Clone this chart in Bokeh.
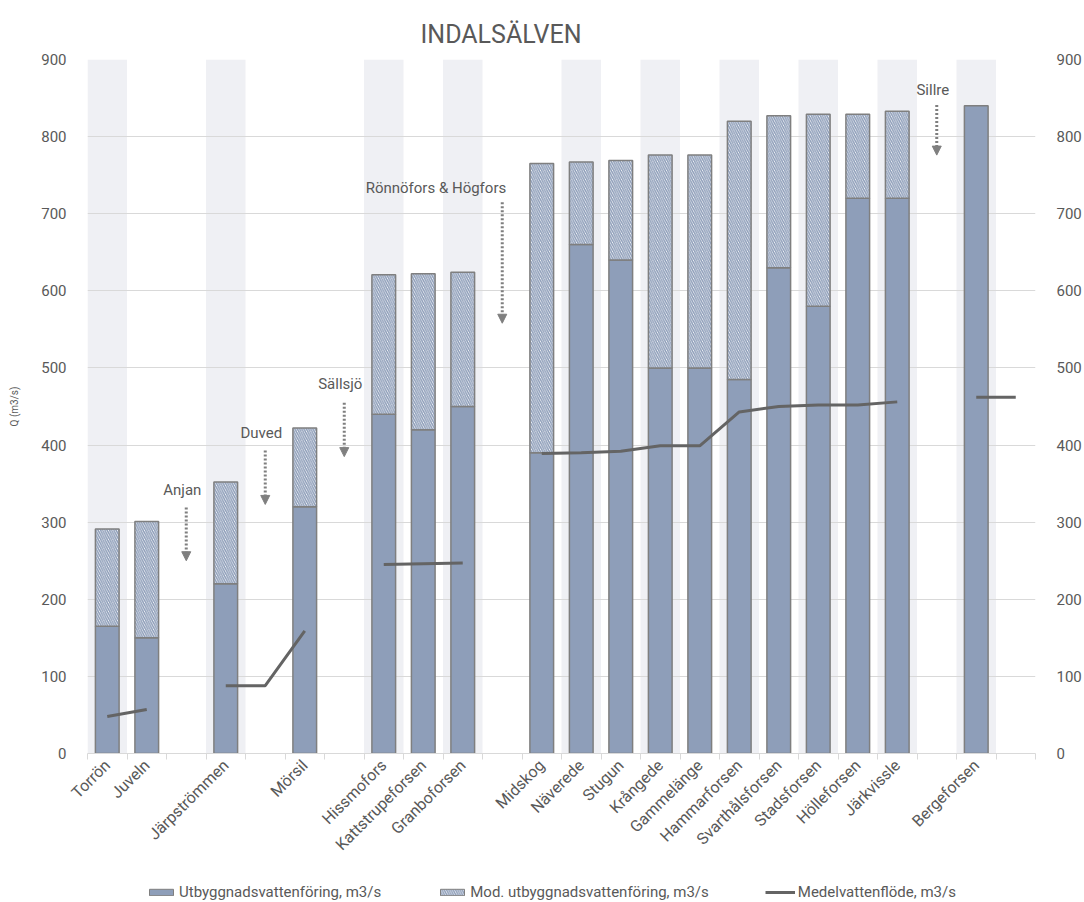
import math
import numpy as np
from bokeh.plotting import figure
from bokeh.layouts import column
from bokeh.models import (ColumnDataSource, Range1d, LinearAxis, FixedTicker,
                          Legend, LegendItem, Arrow, NormalHead)
from bokeh.core.properties import value
from bokeh.embed import file_html
from bokeh.resources import INLINE

# ---- data -------------------------------------------------------------
stations = ["Torrön", "Juveln", "", "Järpströmmen", "", "Mörsil", "",
            "Hissmofors", "Kattstrupeforsen", "Granboforsen", "",
            "Midskog", "Näverede", "Stugun", "Krångede", "Gammelänge",
            "Hammarforsen", "Svarthålsforsen", "Stadsforsen", "Hölleforsen",
            "Järkvissle", "", "Bergeforsen", ""]
utbyggnad = [165, 150, None, 220, None, 320, None, 440, 420, 450, None,
             390, 660, 640, 500, 500, 485, 630, 580, 720, 720, None, 840, None]
mod_utbyggnad = [126, 151, None, 132, None, 102, None, 181, 202, 174, None,
                 375, 107, 129, 276, 276, 335, 197, 249, 109, 113, None, 0, None]
medel = [48, 57, None, 88, 88, 159, None, 245, 246, 247, None,
         389, 390, 392, 399, 399, 443, 450, 452, 452, 456, None, 462, 462]
band = [1, 0, 0, 1, 0, 0, 0, 1, 0, 1, 0, 0, 1, 0, 1, 0, 1, 0, 1, 0, 1, 0, 1, 0]

ann_labels = ["Anjan", "Duved", "Sällsjö", "Rönnöfors & Högfors", "Sillre"]
ann_pos = [2, 4, 6, 10, 21]
ann_text_y = [342, 416, 479, 733, 861]
ann_top = [319, 393, 455, 715, 841]
ann_bottom = [250, 323, 385, 558, 776]
ann_align = ["center", "center", "center", "right", "center"]

legend_labels = ["Utbyggnadsvattenföring, m3/s",
                 "Mod. utbyggnadsvattenföring, m3/s",
                 "Medelvattenflöde, m3/s"]

y_ticks = [0, 100, 200, 300, 400, 500, 600, 700, 800, 900]

# ---- styling ----------------------------------------------------------
TXT = "#595959"
BAR = "#8E9EB9"
EDGE = "#7F7F7F"
MEAN = "#646464"
FONT = "Roboto"
HATCH = dict(fill_color="white", hatch_pattern="\\", hatch_color=BAR,
             hatch_scale=4.5, hatch_weight=1.5)

n = len(stations)
centers = [i + 0.5 for i in range(n)]

p = figure(width=1084, height=875, output_backend="svg", toolbar_location=None,
           x_range=Range1d(0, n), y_range=Range1d(0, y_ticks[-1]),
           min_border_left=87, min_border_right=42, min_border_top=59,
           min_border_bottom=122, outline_line_color=None,
           background_fill_color="white", border_fill_color="white")

# title
p.title.text = "INDALSÄLVEN"
p.title.text_font = FONT
p.title.text_font_size = "25px"
p.title.text_font_style = "normal"
p.title.text_color = TXT
p.title.align = "left"
p.title.offset = 333
p.title.standoff = 22

# background bands
bx = [centers[i] for i in range(n) if band[i]]
p.vbar(x=bx, top=y_ticks[-1], bottom=0, width=1.0, fill_color="#EFF0F4",
       line_color=None, level="underlay")

# bars
idx = [i for i in range(n) if utbyggnad[i] is not None]
src = ColumnDataSource(dict(
    x=[centers[i] for i in idx],
    base=[utbyggnad[i] for i in idx],
))
p.vbar(x="x", top="base", bottom=0, width=0.6, source=src,
       fill_color=BAR, line_color=EDGE, line_width=1.5)
idx_mod = [i for i in idx if mod_utbyggnad[i] > 0]
src_mod = ColumnDataSource(dict(
    x=[centers[i] for i in idx_mod],
    base=[utbyggnad[i] for i in idx_mod],
    top=[utbyggnad[i] + mod_utbyggnad[i] for i in idx_mod],
))
p.vbar(x="x", top="top", bottom="base", width=0.6, source=src_mod,
       line_color=EDGE, line_width=1.5, **HATCH)

# mean line
my = [np.nan if v is None else v for v in medel]
p.line(x=centers, y=my, line_color=MEAN, line_width=3)

# annotations
for lab, pos, ty, yt, yb, al in zip(ann_labels, ann_pos, ann_text_y, ann_top,
                                    ann_bottom, ann_align):
    cx = centers[pos]
    tx = cx + 0.1 if al == "right" else cx - 0.1
    p.text(x=[tx], y=[ty], text=[lab], text_font=value(FONT),
           text_font_size="15px", text_color=TXT, text_align=al,
           text_baseline="middle")
    p.add_layout(Arrow(x_start=cx, y_start=yt, x_end=cx, y_end=yb,
                       line_color=EDGE, line_width=3, line_dash="2 2",
                       end=NormalHead(size=9, fill_color=EDGE, line_color=EDGE,
                                      line_width=1)))

# axes
p.xaxis.ticker = FixedTicker(ticks=centers, minor_ticks=list(range(n + 1)))
p.xaxis.major_label_overrides = {c: s for c, s in zip(centers, stations)}
p.xaxis.major_label_orientation = math.pi / 4
p.xaxis.major_tick_line_color = None
p.xaxis.minor_tick_line_color = "#D9D9D9"
p.xaxis.minor_tick_in = 0
p.xaxis.minor_tick_out = 6
p.xaxis.axis_line_color = "#D9D9D9"
p.xaxis.major_label_text_font = FONT
p.xaxis.major_label_text_font_size = "16px"
p.xaxis.major_label_text_color = TXT
p.xaxis.major_label_standoff = 3

p.yaxis.ticker = FixedTicker(ticks=y_ticks)
p.yaxis.axis_label = "Q (m3/s)"
p.yaxis.axis_label_text_font = FONT
p.yaxis.axis_label_text_font_size = "10px"
p.yaxis.axis_label_text_font_style = "normal"
p.yaxis.axis_label_text_color = TXT
p.yaxis.axis_label_standoff = 18

yr = LinearAxis(ticker=FixedTicker(ticks=y_ticks))
p.add_layout(yr, "right")
for ax in (p.yaxis[0], yr):
    ax.axis_line_color = None
    ax.major_tick_line_color = None
    ax.minor_tick_line_color = None
    ax.major_label_text_font = FONT
    ax.major_label_text_font_size = "15px"
    ax.major_label_text_color = TXT
    ax.major_label_standoff = 15

p.xgrid.grid_line_color = None
p.ygrid.ticker = FixedTicker(ticks=y_ticks)
p.ygrid.grid_line_color = "#D9D9D9"

# legend strip (separate figure below the chart)
lf = figure(width=1084, height=27, output_backend="svg", toolbar_location=None,
            x_range=Range1d(0, 1), y_range=Range1d(0, 1), min_border=0,
            x_axis_location=None, y_axis_location=None,
            outline_line_color=None, background_fill_alpha=0,
            border_fill_alpha=0)
lf.grid.visible = False
g1 = lf.vbar(x=[-50], top=[-50], bottom=[-51], width=0.6, fill_color=BAR,
             line_color=EDGE, line_width=1)
g2 = lf.vbar(x=[-50], top=[-50], bottom=[-51], width=0.6, line_color=EDGE,
             line_width=1, **HATCH)
g3 = lf.line(x=[-50, -49], y=[-50, -50], line_color=MEAN, line_width=3)
legend = Legend(items=[LegendItem(label=t, renderers=[r])
                       for t, r in zip(legend_labels, [g1, g2, g3])],
                orientation="horizontal", location=(59, 1), glyph_width=30,
                glyph_height=8, label_standoff=3, spacing=56, padding=2,
                margin=0, label_text_font=FONT, label_text_font_size="15px",
                label_text_color=TXT, background_fill_alpha=0,
                border_line_color=None)
lf.add_layout(legend, "center")

layout = column(p, lf, spacing=0)
open("out.html", "w").write(file_html(layout, INLINE))
